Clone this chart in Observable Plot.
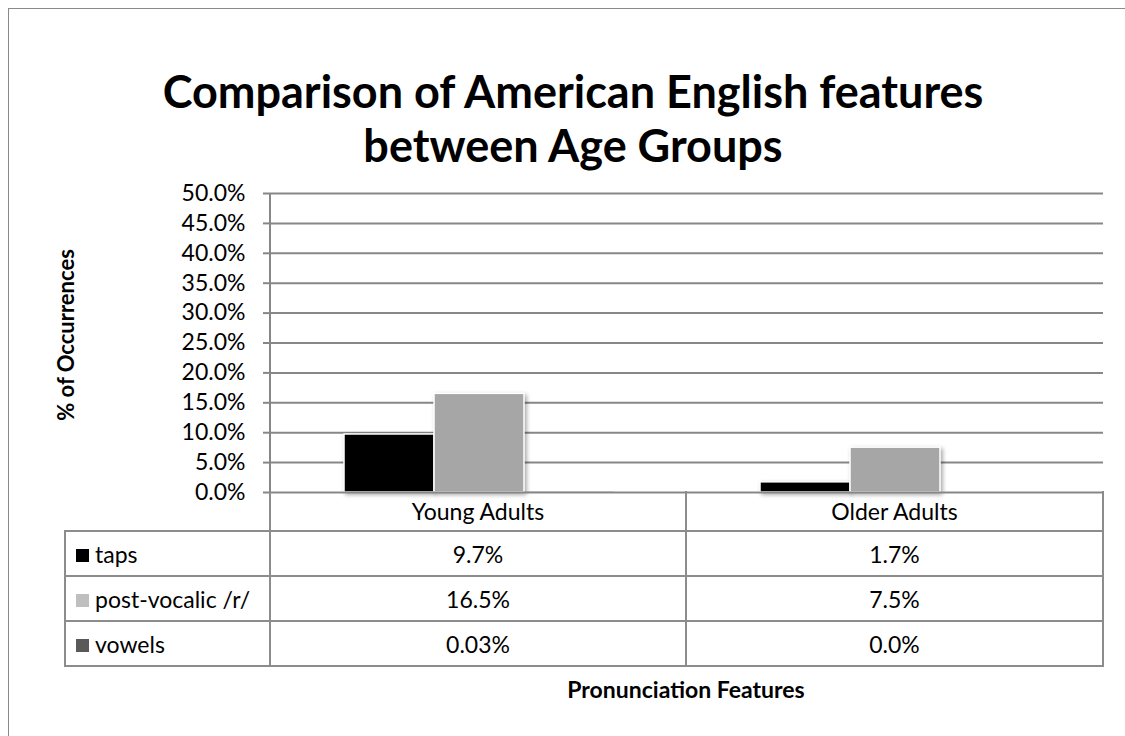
<!DOCTYPE html>
<html>
<head>
<meta charset="utf-8">
<script src="https://cdn.jsdelivr.net/npm/d3@7"></script>
<script src="https://cdn.jsdelivr.net/npm/@observablehq/plot@0.6"></script>
<style>
  html, body { margin: 0; padding: 0; background: #fff; overflow: hidden; }
  #wrap { position: relative; width: 1125px; height: 736px; overflow: hidden; font-family: Lato, "Open Sans", sans-serif; color: #000; }
  #frame { position: absolute; left: 8px; top: 8px; width: 1300px; height: 900px; border-left: 1.5px solid #8a8a8a; border-top: 1.5px solid #8a8a8a; }
  #title { position: absolute; left: 0; top: 64px; width: 1146px; text-align: center; font-weight: 700; font-size: 45px; line-height: 54px; }
  #ytitle { position: absolute; left: 65px; top: 335px; transform: translate(-50%, -50%) rotate(-90deg); font-weight: 700; font-size: 22px; white-space: nowrap; }
  #xtitle { position: absolute; left: 686px; top: 689px; transform: translate(-50%, -50%); font-weight: 700; font-size: 23px; white-space: nowrap; }
  #plot { position: absolute; left: 0; top: 0; }
  #tbl { position: absolute; left: 64px; top: 491px; border-collapse: collapse; font-size: 23px; }
  #tbl td { border: 2px solid #8c8c8c; padding: 0; text-align: center; white-space: nowrap; }
  #tbl td.leg { text-align: left; padding-left: 10px; }
  #tbl tr.hdr td { height: 39px; border-top: none; }
  #tbl tr.hdr td.blank { border-left: none; }
  #tbl tr.row td { height: 43px; }
  .sw { display: inline-block; width: 13px; height: 13px; margin-right: 6px; vertical-align: 1px; }
</style>
</head>
<body>
<div id="wrap">
  <div id="frame"></div>
  <div id="plot"></div>
  <div id="title">Comparison of American English features<br>between Age Groups</div>
  <div id="ytitle">% of Occurrences</div>
  <div id="xtitle">Pronunciation Features</div>
  <table id="tbl"></table>
</div>
<script>
// ---- data ----
const categories = ["Young Adults", "Older Adults"];
const seriesNames = ["taps", "post-vocalic /r/", "vowels"];
const taps = [9.7, 1.7];
const postVocalic = [16.5, 7.5];
const vowels = [0.03, 0.0];
const tableLabels = {
  "taps": ["9.7%", "1.7%"],
  "post-vocalic /r/": ["16.5%", "7.5%"],
  "vowels": ["0.03%", "0.0%"]
};
const yTicks = [0, 5, 10, 15, 20, 25, 30, 35, 40, 45, 50];
const barColors = ["#000000", "#a6a6a6", "#595959"];
const swatchColors = ["#000000", "#bfbfbf", "#595959"];

const seriesValues = [taps, postVocalic, vowels];
const data = [];
categories.forEach((c, i) => {
  seriesNames.forEach((s, j) => data.push({category: c, series: s, value: seriesValues[j][i]}));
});

const chart = Plot.plot({
  width: 1125,
  height: 736,
  marginLeft: 270,
  marginRight: 22,
  marginTop: 193,
  marginBottom: 244,
  style: {fontFamily: "Lato, 'Open Sans', sans-serif", fontSize: "23px", color: "#000", background: "transparent"},
  fx: {domain: categories, padding: 0, axis: null},
  x: {domain: seriesNames, paddingInner: 0, paddingOuter: 0.79, axis: null},
  y: {domain: [0, 50], ticks: yTicks, label: null},
  color: {domain: seriesNames, range: barColors},
  marks: [
    Plot.gridY(yTicks.filter(d => d > 0), {stroke: "#878787", strokeOpacity: 1, strokeWidth: 2}),
    Plot.barY(data, {fx: "category", x: "series", y: "value", fill: "series",
      stroke: d => d.value > 0.5 ? "#ffffff" : "none", strokeWidth: 1.5}),
    Plot.ruleY([0], {stroke: "#878787", strokeWidth: 2}),
    Plot.axisY(yTicks, {tickSize: 8, tickPadding: 18, stroke: "#878787", strokeWidth: 2, tickFormat: d => d.toFixed(1) + "%", fill: "#000", fontSize: 23})
  ]
});
document.getElementById("plot").appendChild(chart);
chart.querySelectorAll('g[aria-label="bar"] rect').forEach(r => {
  if (+r.getAttribute("height") > 1) r.style.filter = "drop-shadow(2px 2px 2px rgba(0,0,0,0.35))";
});
{
  const svg = d3.select(chart);
  const y = chart.scale("y");
  svg.append("line").attr("x1", 270).attr("x2", 270)
    .attr("y1", y.apply(50)).attr("y2", y.apply(0))
    .attr("stroke", "#878787").attr("stroke-width", 2);
}

// ---- data table ----
const tbl = document.getElementById("tbl");
const hdr = document.createElement("tr");
hdr.className = "hdr";
const blank = document.createElement("td");
blank.className = "blank"; blank.style.width = "204px";
hdr.appendChild(blank);
categories.forEach((c, i) => {
  const td = document.createElement("td");
  td.textContent = c;
  td.style.width = i === 0 ? "414px" : "415px";
  hdr.appendChild(td);
});
tbl.appendChild(hdr);
seriesNames.forEach((s, j) => {
  const tr = document.createElement("tr");
  tr.className = "row";
  const lg = document.createElement("td");
  lg.className = "leg";
  const sw = document.createElement("span");
  sw.className = "sw"; sw.style.background = swatchColors[j];
  lg.appendChild(sw);
  lg.appendChild(document.createTextNode(s));
  tr.appendChild(lg);
  tableLabels[s].forEach(v => {
    const td = document.createElement("td");
    td.textContent = v;
    tr.appendChild(td);
  });
  tbl.appendChild(tr);
});
</script>
</body>
</html>
